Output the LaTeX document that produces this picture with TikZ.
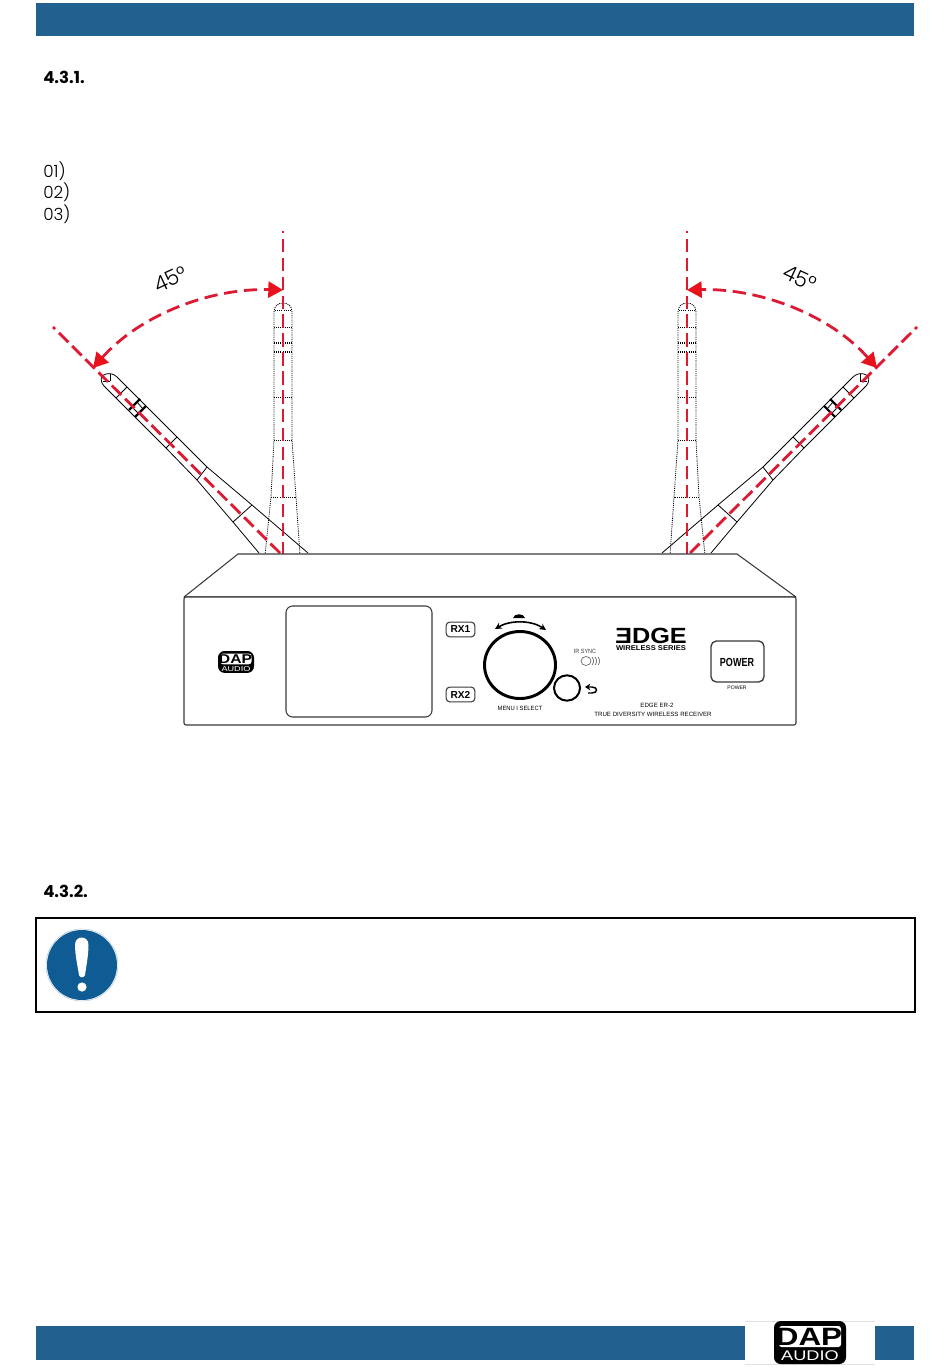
\documentclass[tikz,border=0pt]{standalone}
\usepackage{fontspec}
\setmainfont{Poppins}
\newfontfamily\lib{Liberation Sans}
\newfontfamily\thinfont{Poppins Light}
\usetikzlibrary{arrows.meta,calc}
\definecolor{dapblue}{HTML}{22608F}
\definecolor{iconblue}{HTML}{0F5C94}
\definecolor{redaxis}{HTML}{DC1A33}
\definecolor{redtip}{HTML}{E8121C}
\definecolor{panelline}{HTML}{3A3A3A}
\tikzset{
  bar/.style={fill=dapblue,draw=none},
  heading/.style={anchor=west,inner sep=0pt,font=\bfseries\fontsize{12.4}{13}\selectfont},
  listno/.style={anchor=west,inner sep=0pt,font=\thinfont\fontsize{12.6}{13}\selectfont},
  axisup/.style={draw=redaxis,line width=2.1pt,dash pattern=on 10pt off 4.2pt},
  axistilt/.style={draw=redaxis,line width=2.1pt,dash pattern=on 10pt off 4pt},
  swingarc/.style={draw=redaxis,line width=2.1pt,dash pattern=on 10pt off 5pt,
     {Stealth[inset=0pt,length=11pt,width=12pt,color=redtip]}-{Stealth[inset=0pt,length=11pt,width=12pt,color=redtip]}},
  solidant/.style={draw=black,line width=.6pt,line join=round},
  thickband/.style={draw=black,line width=1.6pt},
  dotant/.style={draw=black,line width=.6pt,dash pattern=on .8pt off .8pt},
  dotband/.style={draw=black,line width=1pt,dash pattern=on .8pt off .8pt},
  panel/.style={draw=panelline,line width=.8pt,line join=round},
  anglelabel/.style={inner sep=0pt,font=\thinfont\fontsize{16}{16}\selectfont},
  tag/.style={draw=panelline,line width=.8pt,rounded corners=2.6pt,minimum width=21.5pt,minimum height=11pt,inner sep=0pt,font=\lib\bfseries\fontsize{7.6}{8}\selectfont},
  paneltext/.style={inner sep=0pt,text=black,font=\lib\fontsize{4.6}{5}\selectfont},
}
\newcommand{\Narrow}[2][.82]{\scalebox{#1}[1]{#2}}
\newcommand{\Antennas}{%
  % upright antenna, dotted
  \draw[dotant] (265,555) -- (271,497) -- (274,440) -- (274,312)
     .. controls (274,306) and (278,303) .. (283,303)
     .. controls (288,303) and (292,306) .. (292,312)
     -- (292,440) -- (296,497) -- (300,555);
  \foreach \yy/\xa/\xb in {327/274/292,397/274/292,440/274/292,497/271/296,310/275/291}
     \draw[dotant] (\xa,\yy) -- (\xb,\yy);
  \foreach \yy in {343,352}
     \draw[dotband] (274,\yy) -- (292,\yy);
  % tilted antenna, solid
  \draw[solidant] (259,553) -- (233,522) -- (197,480) -- (166,448) -- (104,386)
     .. controls (99,380) and (101,375) .. (106,374)
     .. controls (110,373) and (114,374) .. (117,377)
     -- (177,437) -- (207,467) -- (252,505) -- (308,553);
  \foreach \ax/\ay/\bx/\by in {233/522/252/505,197/480/207/467,166/448/177/437,116/398/127/387,103/381/110/381,110/374/110/381,132/407/139/414,137/402/143/409}
     \draw[solidant] (\ax,\ay) -- (\bx,\by);
  \draw[thickband] (129,410) -- (140,399);
  \draw[thickband] (135,417) -- (146,406);
  % axes
  \coordinate (base) at (283,555);
  \coordinate (upEnd) at (283,231);
  \coordinate (tiltBase) at (280,553);
  \coordinate (tiltEnd) at (53,327);
  \draw[axisup] (base) -- (upEnd);
  \draw[axistilt] (tiltBase) -- (tiltEnd);
  % swing arc
  \coordinate (arcA) at (93,368);
  \coordinate (arcB) at (283,290);
  \draw[swingarc] (arcA) .. controls (140,315) and (210,288) .. (arcB);
}
\newcommand{\DapLogo}{%
  % unit box 72 x 43, origin top-left
  \fill[black,rounded corners=5pt] (0,0) rectangle (72,43);
  \fill[white,rounded corners=2pt] (5,5) rectangle (67,26);
  \node[inner sep=0pt,transform shape,font=\lib\bfseries\fontsize{18.8}{19}\selectfont] (dapword) at (35,15.5) {\scalebox{1.25}[1]{DAP}};
  \node[inner sep=0pt,transform shape,text=white,font=\lib\fontsize{10.5}{11}\selectfont] (audioword) at (36,34.5) {\scalebox{1.3}[1]{AUDIO}};
}
\begin{document}
\begin{tikzpicture}[x=.75pt,y=-.75pt]
\useasboundingbox (0,0) rectangle (950,1369);
\fill[white] (0,0) rectangle (950,1369);
% header and footer
\path[bar] (36,3) rectangle (914,36);
\path[bar] (36,1326) rectangle (745,1360);
\path[bar] (875,1326) rectangle (914,1360);
\draw[black!12,line width=.5pt] (745,1321) -- (875,1321);
\draw[black!12,line width=.5pt] (745,1364) -- (875,1364);
\begin{scope}[shift={(774,1321)}]\DapLogo\end{scope}
% headings
\node[heading] (h1) at (43,77) {4.3.1.};
\node[heading] (h2) at (43,891) {4.3.2.};
\node[listno] (n1) at (43,171) {01)};
\node[listno] (n2) at (43,192) {02)};
\node[listno] (n3) at (43,214) {03)};
% antennas
\Antennas
\begin{scope}[shift={(970,0)},xscale=-1]\Antennas\end{scope}
\node[anglelabel,rotate=25] (aL) at (170.5,279) {45°};
\node[anglelabel,rotate=-25] (aR) at (800,278) {45°};
% body
\draw[panel,fill=white] (184,597) -- (238,554) -- (737,554) -- (796,597) -- cycle;
\draw[panel,fill=white,rounded corners=1.5pt] (184,597) rectangle (796,725);
\draw[panel,rounded corners=5pt] (286,606) rectangle (432,717);
\node[tag] (rx1) at (460.5,629.5) {RX1};
\node[tag] (rx2) at (460.5,694.5) {RX2};
\begin{scope}[shift={(218,651)},xscale=.5,yscale=.51]\DapLogo\end{scope}
% knobs
\draw[black,line width=2.2pt] (520,665) ellipse [x radius=35.5,y radius=33.5];
\draw[black,line width=1.5pt] (567,688) ellipse [x radius=13,y radius=12.7];
\fill[black] (513,618) .. controls (514,613) and (524,613) .. (525,618) -- cycle;
\coordinate (sweepL) at (495,629);
\coordinate (sweepR) at (546,630);
\draw[black,line width=1.2pt,{Stealth[length=5pt,width=5pt]}-{Stealth[length=5pt,width=5pt]}] (sweepL) .. controls (510,620) and (531,620) .. (sweepR);
\draw[black,line width=1.1pt,-{Stealth[length=4pt,width=5pt]}] (588,693) -- (592,693) .. controls (598,693) and (598,687) .. (592,687) -- (585,687);
\node[paneltext] (menu) at (520,708) {\Narrow[.95]{MENU I SELECT}};
\node[paneltext,text=black!75] (irs) at (585,651) {\Narrow[.9]{IR SYNC}};
\draw[black!65,line width=.45pt] (586,661) ellipse [x radius=5,y radius=4.5];
\foreach \dd in {0,3,6}
  \draw[black!65,line width=.45pt] ($(592,657)+(\dd,0)$) .. controls ($(594,659)+(\dd,0)$) and ($(594,663)+(\dd,0)$) .. ($(592,665)+(\dd,0)$);
% edge logo
\node[inner sep=0pt,font=\lib\bfseries\fontsize{16.5}{17}\selectfont] (edge) at (651,635.5) {\scalebox{1.15}[1]{\reflectbox{E}DGE}};
\node[inner sep=0pt,font=\lib\bfseries\fontsize{5.2}{6}\selectfont] (wire) at (651,648) {\Narrow[1.1]{WIRELESS SERIES}};
% power
\draw[panel,rounded corners=4pt,line width=1pt] (711,641) rectangle (764,682);
\node[inner sep=0pt,font=\lib\bfseries\fontsize{8.8}{9}\selectfont] (pw) at (737,662) {\Narrow[.77]{POWER}};
\node[paneltext,font=\lib\fontsize{3.8}{4}\selectfont] (pw2) at (737,688) {POWER};
\node[paneltext] (m1) at (657,705) {\Narrow[1]{EDGE ER-2}};
\node[paneltext] (m2) at (653,714) {\Narrow[1]{TRUE DIVERSITY WIRELESS RECEIVER}};
% notice
\draw[black,line width=1.9pt] (36,918) rectangle (915,1012);
\fill[iconblue] (82,965) circle (35);
\draw[iconblue!40,line width=.3pt] (82,965) circle (36);
\fill[white] (75,945) .. controls (75,935) and (88.5,935) .. (88.5,945) .. controls (88.5,955) and (86,968) .. (85,975) .. controls (84.5,978) and (79.5,978) .. (79,975) .. controls (78,968) and (75,955) .. (75,945) -- cycle;
\fill[white] (82,987) circle (4.6);
\end{tikzpicture}
\end{document}
